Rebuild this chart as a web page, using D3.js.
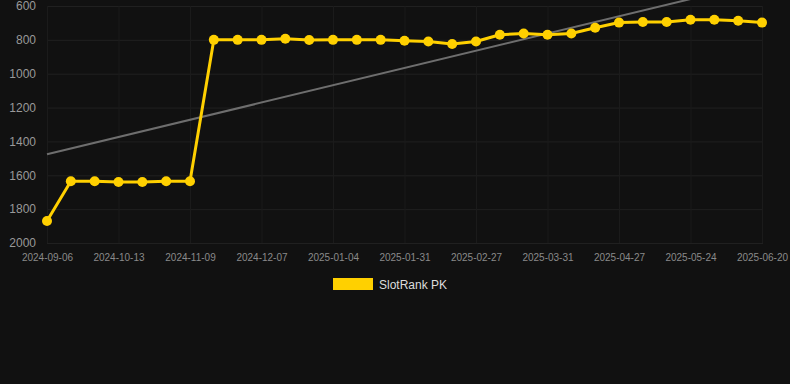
<!DOCTYPE html>
<html>
<head>
<meta charset="utf-8">
<script src="https://cdn.jsdelivr.net/npm/d3@7"></script>
<style>
  html, body { margin: 0; padding: 0; background: #111111; }
  svg { display: block; font-family: "Liberation Sans", Arial, sans-serif; }
</style>
</head>
<body>
<svg id="chart" width="790" height="384"></svg>
<script>
// Rank over time, lower is better so the y axis is reversed.

var dates = [
    "2024-09-06", "2024-09-18", "2024-10-01", "2024-10-13", "2024-10-22", "2024-10-31",
    "2024-11-09", "2024-11-18", "2024-11-27", "2024-12-07", "2024-12-16", "2024-12-25",
    "2025-01-04", "2025-01-13", "2025-01-22", "2025-01-31", "2025-02-09", "2025-02-18",
    "2025-02-27", "2025-03-09", "2025-03-20", "2025-03-31", "2025-04-09", "2025-04-18",
    "2025-04-27", "2025-05-06", "2025-05-15", "2025-05-24", "2025-06-02", "2025-06-11",
    "2025-06-20"
];
var ranks = [
    1870, 1635, 1635, 1640, 1640, 1635,
    1635, 800, 800, 800, 793, 801,
    800, 800, 800, 805, 810, 825,
    810, 770, 762, 770, 762, 728,
    698, 694, 694, 681, 681, 687,
    698
];
var yTicks = [600, 800, 1000, 1200, 1400, 1600, 1800, 2000];
var seriesName = "SlotRank PK";

var PLOT_L = 47;
var PLOT_R = 762;
var PLOT_T = 6;
var PLOT_B = 243;
var YELLOW = "#ffd000";

var svg = d3.select("#chart");

var x = d3.scalePoint().domain(dates).range([PLOT_L, PLOT_R]);
var y = d3.scaleLinear().domain([600, 2000]).range([PLOT_T, PLOT_B]);

// Grid
var yAxis = d3.axisLeft(y).tickValues(yTicks).tickFormat(d3.format("d"))
    .tickSize(-(PLOT_R - PLOT_L + 1)).tickPadding(11);
var gy = svg.append("g").attr("transform", "translate(" + PLOT_L + ",0)").call(yAxis);
gy.select(".domain").remove();
gy.selectAll("line").attr("stroke", "#202020").attr("stroke-width", 1);
gy.selectAll("text").attr("fill", "#999999").style("font-size", "12px");

var shownDates = dates.filter(function (d, i) { return i % 3 == 0; });
var xAxis = d3.axisBottom(x).tickValues(shownDates).tickSize(-(PLOT_B - PLOT_T)).tickPadding(11);
var gx = svg.append("g").attr("transform", "translate(0," + PLOT_B + ")").call(xAxis);
gx.select(".domain").remove();
gx.selectAll("line").attr("stroke", "#1b1b1b").attr("stroke-width", 1);
gx.selectAll("text").attr("fill", "#8a8a8a").style("font-size", "10px");

// Trend line (least squares over the point index)
var n = ranks.length;
var meanI = d3.mean(ranks, function (d, i) { return i; });
var meanV = d3.mean(ranks);
var num = 0, den = 0;
for (var i = 0; i < n; i++) {
    num += (i - meanI) * (ranks[i] - meanV);
    den += (i - meanI) * (i - meanI);
}
var slope = num / den;
var trend = [0, n - 1].map(function (i) { return [i, meanV + slope * (i - meanI)]; });

svg.append("clipPath").attr("id", "clip")
    .append("rect").attr("x", 0).attr("y", 0).attr("width", 790).attr("height", PLOT_B);

svg.append("line")
    .attr("clip-path", "url(#clip)")
    .attr("x1", x(dates[trend[0][0]])).attr("y1", y(trend[0][1]))
    .attr("x2", x(dates[trend[1][0]])).attr("y2", y(trend[1][1]))
    .attr("stroke", "#6e6e6e").attr("stroke-width", 2);

// Series
var line = d3.line()
    .x(function (d, i) { return x(dates[i]); })
    .y(function (d) { return y(d); });

svg.append("path")
    .datum(ranks)
    .attr("d", line)
    .attr("fill", "none")
    .attr("stroke", YELLOW)
    .attr("stroke-width", 3)
    .attr("stroke-linejoin", "round");

svg.selectAll(".pt")
    .data(ranks)
    .enter().append("circle")
    .attr("class", "pt")
    .attr("cx", function (d, i) { return x(dates[i]); })
    .attr("cy", function (d) { return y(d); })
    .attr("r", 5)
    .attr("fill", YELLOW);

// Legend
svg.append("rect")
    .attr("x", 333).attr("y", 278)
    .attr("width", 40).attr("height", 12)
    .attr("fill", YELLOW);
svg.append("text")
    .attr("x", 379).attr("y", 289)
    .attr("fill", "#dddddd")
    .style("font-size", "12px")
    .text(seriesName);
</script>
</body>
</html>
